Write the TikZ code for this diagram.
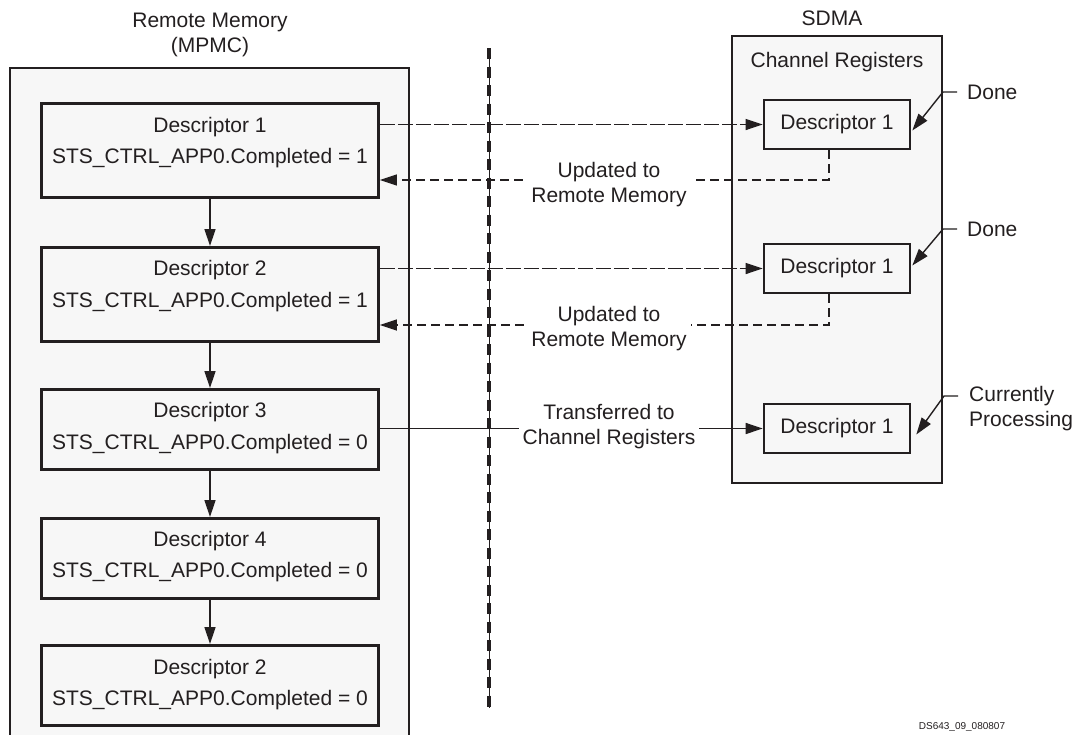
\documentclass[tikz,border=0pt]{standalone}
\usepackage{fontspec}
\setmainfont{Liberation Sans}
\usetikzlibrary{arrows.meta,calc}
\definecolor{ink}{HTML}{231F20}
\definecolor{panel}{HTML}{F7F7F7}
\tikzset{
  txt/.style={font=\fontsize{21}{25}\selectfont, text=ink, align=center, inner sep=0pt},
  frame/.style={draw=ink, line width=2.6pt, fill=panel},
  descbox/.style={draw=ink, line width=2.6pt, fill=panel, minimum width=337pt, inner sep=0pt},
  regbox/.style={draw=ink, line width=2.6pt, fill=panel, minimum width=146pt, minimum height=49pt, inner sep=0pt, txt},
  tip/.style={-{Triangle[length=17pt,width=11pt]}},
  flow/.style={draw=ink, line width=1.4pt, tip},
  dflow/.style={draw=ink, line width=1.3pt, dash pattern=on 9pt off 5pt, tip},
  lflow/.style={draw=ink, line width=1.3pt, dash pattern=on 15pt off 3pt, tip},
  lbl/.style={txt, fill=white, inner xsep=4pt, inner ysep=1pt},
}
\begin{document}
\begin{tikzpicture}[x=1pt,y=-1pt]
\useasboundingbox (0,0) rectangle (1076,734);
\fill[white] (0,0) rectangle (1076,734);

% titles
\node[txt] (tmem) at (210,35) {Remote Memory\\(MPMC)};
\node[txt] (tsdma) at (832,18) {SDMA};

% outer frames
\path[frame] (10,68) rectangle (409,760);
\path[frame] (732,36) rectangle (942,483);
\node[txt] (tch) at (837,62) {Channel Registers};

% left descriptor boxes
\node[descbox, minimum height=94pt, anchor=north] (d1) at (210,102) {};
\node[descbox, minimum height=94pt, anchor=north] (d2) at (210,246) {};
\node[descbox, minimum height=80pt, anchor=north] (d3) at (210,388) {};
\node[descbox, minimum height=80pt, anchor=north] (d4) at (210,517) {};
\node[descbox, minimum height=80pt, anchor=north] (d5) at (210,644) {};

\node[txt] (d1a) at (210,127) {Descriptor 1};
\node[txt] (d1b) at (210,158) {STS\_CTRL\_APP0.Completed = 1};
\node[txt] (d2a) at (210,270) {Descriptor 2};
\node[txt] (d2b) at (210,302) {STS\_CTRL\_APP0.Completed = 1};
\node[txt] (d3a) at (210,412) {Descriptor 3};
\node[txt] (d3b) at (210,444) {STS\_CTRL\_APP0.Completed = 0};
\node[txt] (d4a) at (210,541) {Descriptor 4};
\node[txt] (d4b) at (210,572) {STS\_CTRL\_APP0.Completed = 0};
\node[txt] (d5a) at (210,669) {Descriptor 2};
\node[txt] (d5b) at (210,700) {STS\_CTRL\_APP0.Completed = 0};

% chain arrows
\draw[flow] (d1.south) -- (d2.north);
\draw[flow] (d2.south) -- (d3.north);
\draw[flow] (d3.south) -- (d4.north);
\draw[flow] (d4.south) -- (d5.north);

% right register boxes
\node[regbox] (r1) at (837,124.5) {Descriptor 1};
\node[regbox] (r2) at (837,268.5) {Descriptor 1};
\node[regbox] (r3) at (837,428.5) {Descriptor 1};

% transfer lines
\draw[lflow] (d1.east |- r1.west) -- (r1.west);
\draw[lflow] (d2.east |- r2.west) -- (r2.west);
\coordinate (ret1) at (829,180);
\coordinate (ret2) at (829,325);
\draw[dflow] (ret1 |- r1.south) -- (ret1) -- (d1.east |- ret1);
\draw[dflow] (ret2 |- r2.south) -- (ret2) -- (d2.east |- ret2);
\draw[flow] (d3.east |- r3.west) -- (r3.west);

% labels on lines
\node[lbl] (u1) at (609,185) {Updated to\\Remote Memory};
\node[lbl] (u2) at (609,329) {Updated to\\Remote Memory};
\node[lbl] (tr) at (609,427) {Transferred to\\Channel Registers};

% divider
\coordinate (vtop) at (489,48);
\coordinate (vbot) at (489,708);
\draw[ink, line width=1pt] (vtop) -- (vbot);
\draw[ink, line width=4pt, dash pattern=on 11pt off 7.5pt] (vtop) -- (vbot);

% annotations
\node[txt, anchor=west] (done1) at (967,92) {Done};
\node[txt, anchor=west] (done2) at (967,229) {Done};
\node[txt, anchor=west, align=left] (cur) at (969,409) {Currently\\Processing};
\coordinate (a1) at (943,92);
\coordinate (a2) at (943,229);
\coordinate (a3) at (944,396);
\draw[flow] ($(done1.west)+(-10,0)$) -- (a1) -- ($(r1.east)+(1,6)$);
\draw[flow] ($(done2.west)+(-10,0)$) -- (a2) -- ($(r2.east)+(1,-3)$);
\draw[flow] (958,396) -- (a3) -- ($(r3.east)+(5,6)$);

% figure id
\node[font=\fontsize{10}{12}\selectfont, text=ink, inner sep=0pt] (fid) at (962,727) {DS643\_09\_080807};
\end{tikzpicture}
\end{document}
